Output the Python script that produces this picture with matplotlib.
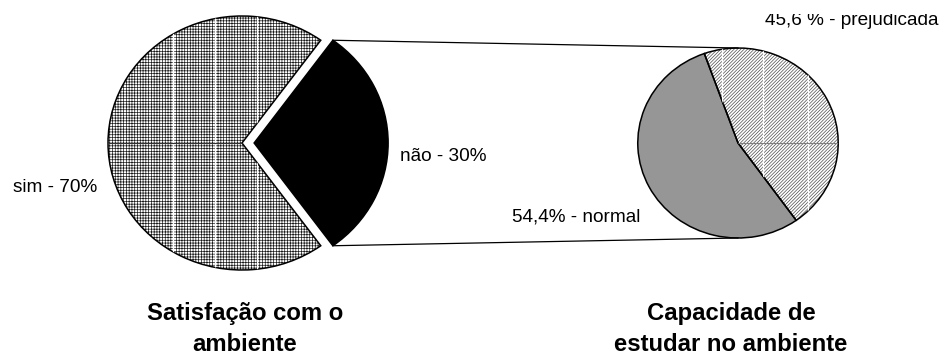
import numpy as np
import matplotlib.pyplot as plt
from matplotlib.patches import Rectangle

plt.rcParams['font.family'] = ['Liberation Sans', 'DejaVu Sans']
plt.rcParams['hatch.linewidth'] = 0.5

ambiente_labels = ['sim - 70%', 'não - 30%']
ambiente_values = [70, 30]
estudo_labels = ['45,6 % - prejudicada', '54,4% - normal']
estudo_values = [45.6, 54.4]
title_lines = [['Satisfação com o', 'ambiente'],
               ['Capacidade de', 'estudar no ambiente']]

SX = 1.055   # the exported chart is a bit wider than tall
W, H = 949, 359


def px(x, y):
    # pixel position -> data position
    return x / SX, H - y


fig = plt.figure(figsize=(W / 100, H / 100), dpi=100)
ax = fig.add_axes([0, 0, 1, 1])

c1 = px(242, 143)
c2 = px(738, 143)
r1, r2 = 127, 95
expl = [0, 11.5]   # pie() takes the offset in data units

# left pie: fills/hatch first, then black outlines on top
w1, _ = ax.pie(ambiente_values, center=c1, radius=r1, startangle=54,
               explode=expl, colors=['white', 'black'],
               hatch=['++++++', ''], frame=True,
               wedgeprops=dict(edgecolor='#1a1a1a', linewidth=0))
ax.pie(ambiente_values, center=c1, radius=r1, startangle=54,
       explode=expl, frame=True,
       wedgeprops=dict(fill=False, edgecolor='black', linewidth=1.1))

# right pie
w2, _ = ax.pie(estudo_values, center=c2, radius=r2, startangle=-54.5,
               colors=['white', '#969696'], hatch=['//////////', ''],
               frame=True, wedgeprops=dict(edgecolor='#4d4d4d', linewidth=0))
ax.pie(estudo_values, center=c2, radius=r2, startangle=-54.5, frame=True,
       wedgeprops=dict(fill=False, edgecolor='black', linewidth=1.1))

# seams in the hatched fills
for x in [173, 215, 257]:
    ln = ax.axvline(x / SX, color='white', lw=0.9)
    ln.set_clip_path(w1[0])
ln = ax.axhline(H - 143, color='#333333', lw=0.8)
ln.set_clip_path(w1[0])
for x in [722, 763, 808]:
    ln = ax.axvline(x / SX, color='white', lw=0.9)
    ln.set_clip_path(w2[0])
ln = ax.plot([c2[0], c2[0] + r2 * 1.2], [c2[1], c2[1]], color='#808080', lw=0.8)[0]
ln.set_clip_path(w2[0])

# connector lines from the exploded slice to the second pie
bw = w1[1]
bx, by = bw.center
top = (bx + bw.r * np.cos(np.radians(bw.theta2)), by + bw.r * np.sin(np.radians(bw.theta2)))
bot = (bx + bw.r * np.cos(np.radians(bw.theta1)), by + bw.r * np.sin(np.radians(bw.theta1)))
ax.plot([top[0], c2[0]], [top[1], c2[1] + r2], color='black', lw=0.9)
ax.plot([bot[0], c2[0]], [bot[1], c2[1] - r2], color='black', lw=0.9)

# labels
fs = 13.7
ax.text(*px(13, 192), ambiente_labels[0], fontsize=fs, va='baseline')
ax.text(*px(400, 161), ambiente_labels[1], fontsize=fs, va='baseline')
ax.text(*px(512, 221), estudo_labels[1], fontsize=fs, va='baseline')
t = ax.text(*px(765, 25), estudo_labels[0], fontsize=fs, va='baseline')
t.set_clip_on(True)
t.set_clip_path(Rectangle((0, 0), W, H - 14, transform=ax.transData))

for cx, lines in zip([245, 731], title_lines):
    for yb, s in zip([320, 351], lines):
        ax.text(*px(cx, yb), s, fontsize=17.2, fontweight='bold',
                ha='center', va='baseline')

ax.set_aspect('auto')
ax.set_xlim(0, W / SX)
ax.set_ylim(0, H)
ax.axis('off')

fig.savefig('out.png', dpi=100, facecolor='white')
